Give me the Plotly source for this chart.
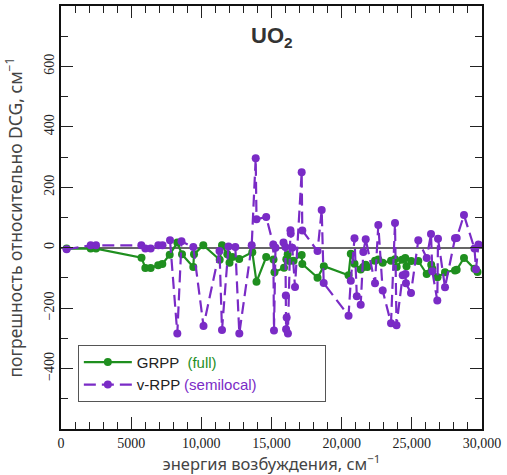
import plotly.graph_objects as go

# GRPP (full) data
grpp_x = [400, 2115, 2494, 5737, 6010, 6390, 6924, 7219, 7746, 8288, 8622, 9427, 9478, 10140,
          11309, 11473, 11851, 12007, 12221, 12699, 13632, 13931, 14622, 15143, 15212, 15891,
          16055, 16155, 16270, 16570, 17150, 17195, 18280, 18730, 20490, 20650, 20915, 21357,
          21542, 21713, 21827, 22376, 22611, 22924, 23516, 23801, 23922, 24300, 24530, 24620,
          24960, 25460, 26060, 26380, 26460, 26830, 27364, 28076, 28196, 28716, 29465, 29680]
grpp_y = [-3, -3, -3, -33, -67, -67, -58, -54, -23, 17, -22, -64, -22, 8,
          -40, 8, -22, -50, -31, -37, -15, -113, -31, -39, -81, -66,
          -38, -22, -44, -43, -24, -54, -99, -61, -91, -20, -53, -72,
          -64, -56, -64, -43, -39, -50, -43, -38, -64, -40, -34, -61,
          -44, -44, -87, -56, -70, -98, -81, -75, -73, -34, -70, -80]

# v-RPP (semilocal) data
vrpp_x = [400, 2115, 2494, 5724, 6010, 6390, 6934, 7233, 7767, 8288, 8587, 9427, 10155, 11295,
          11473, 11936, 12421, 12706, 13589, 13874, 13931, 14622, 15127, 15177, 15284, 15855,
          15990, 16020, 16040, 16080, 16170, 16350, 16370, 16480, 16675, 17150, 17195, 18280,
          18577, 18720, 20490, 20650, 20915, 21080, 21357, 21542, 21713, 22376, 22611, 22924,
          23516, 23801, 23908, 24350, 24550, 24580, 24940, 25460, 26060, 26366, 26460, 26815,
          26865, 27364, 28076, 28196, 28716, 29465, 29572, 29750]
vrpp_y = [-5, 8, 8, 8, -3, -3, 8, 8, 25, -284, 21, 2, -259, -11,
          -272, 4, 2, -284, 8, 296, 94, 102, 11, -274, 0, 17,
          2, -158, -270, -231, -284, 58, 47, 0, -130, 250, 57, -11,
          125, -117, -225, -109, 31, -161, -189, -14, 28, -118, 75, -142,
          -250, 82, -257, -91, -87, -118, -150, 25, -34, 45, -78, -175,
          30, -131, 31, 32, 108, -3, -71, 11]

# reference marker
ref_x = [-150]
ref_y = [0]

x_tickvals = [0, 5000, 10000, 15000, 20000, 25000, 30000]
x_ticktext = ["0", "5000", "10,000", "15,000", "20,000", "25,000", "30,000"]
y_tickvals = [-400, -200, 0, 200, 400, 600]
y_ticktext = ["\u2212400", "\u2212200", "0", "200", "400", "600"]

GREEN = "#1f8f1f"
PURPLE = "#7a2bc6"
PAD = "&nbsp;" * 15

fig = go.Figure()
fig.add_trace(go.Scatter(
    x=grpp_x, y=grpp_y, mode="lines+markers",
    name='GRPP  <span style="color:%s">(full)</span>' % GREEN,
    line=dict(color=GREEN, width=2.2),
    marker=dict(color=GREEN, size=8),
))
fig.add_trace(go.Scatter(
    x=vrpp_x, y=vrpp_y, mode="lines+markers",
    name='v-RPP <span style="color:%s">(semilocal)</span>%s' % (PURPLE, PAD),
    line=dict(color=PURPLE, width=2.2, dash="12px,6px"),
    marker=dict(color=PURPLE, size=8),
))
fig.add_trace(go.Scatter(
    x=ref_x, y=ref_y, mode="markers", showlegend=False, cliponaxis=False,
    marker=dict(color="#1030ff", size=7, symbol="triangle-left"),
))

fig.add_annotation(
    text="<b>UO<sub>2</sub></b>", xref="paper", yref="paper", x=0.5, y=0.9265,
    yanchor="middle",
    showarrow=False, font=dict(family="Liberation Sans", size=22, color="#333"),
)

tickfont = dict(family="Liberation Serif", size=14, color="#222")
fig.update_xaxes(
    range=[0, 30000], tickvals=x_tickvals, ticktext=x_ticktext, tickfont=tickfont,
    automargin=False,
    ticks="inside", ticklen=12, tickcolor="#222", tickwidth=1,
    minor=dict(dtick=1000, ticks="inside", ticklen=7, tickcolor="#222", tickwidth=1),
    showline=True, linecolor="#111", linewidth=1.5, mirror="allticks",
    showgrid=False, zeroline=False,
    title=dict(text="энергия возбуждения, см<sup>\u22121</sup>",
               font=dict(family="Noto Sans", size=16.5, color="#444")),
)
fig.update_yaxes(
    range=[-600, 800], tickvals=y_tickvals, ticktext=y_ticktext, tickfont=tickfont,
    tickangle=-90, automargin=False,
    ticks="inside", ticklen=12, tickcolor="#222", tickwidth=1,
    minor=dict(dtick=100, ticks="inside", ticklen=7, tickcolor="#222", tickwidth=1),
    showline=True, linecolor="#111", linewidth=1.5, mirror="allticks",
    showgrid=False, zeroline=True, zerolinecolor="#666", zerolinewidth=1.5,
    title=dict(text="погрешность относительно DCG, см<sup>\u22121</sup>",
               font=dict(family="Noto Sans", size=17.5, color="#444")),
)

fig.update_layout(
    width=507, height=475,
    margin=dict(l=61, r=25, t=6, b=46),
    paper_bgcolor="white", plot_bgcolor="white",
    legend=dict(
        x=0.04, y=0.199, xanchor="left", yanchor="top",
        bgcolor="white", bordercolor="#555", borderwidth=1,
        font=dict(family="Liberation Sans", size=15, color="#222"),
        itemwidth=48, tracegroupgap=0,
    ),
)

fig.write_html("out.html", config={"displayModeBar": False},
               post_script="document.body.style.margin='0px';")
